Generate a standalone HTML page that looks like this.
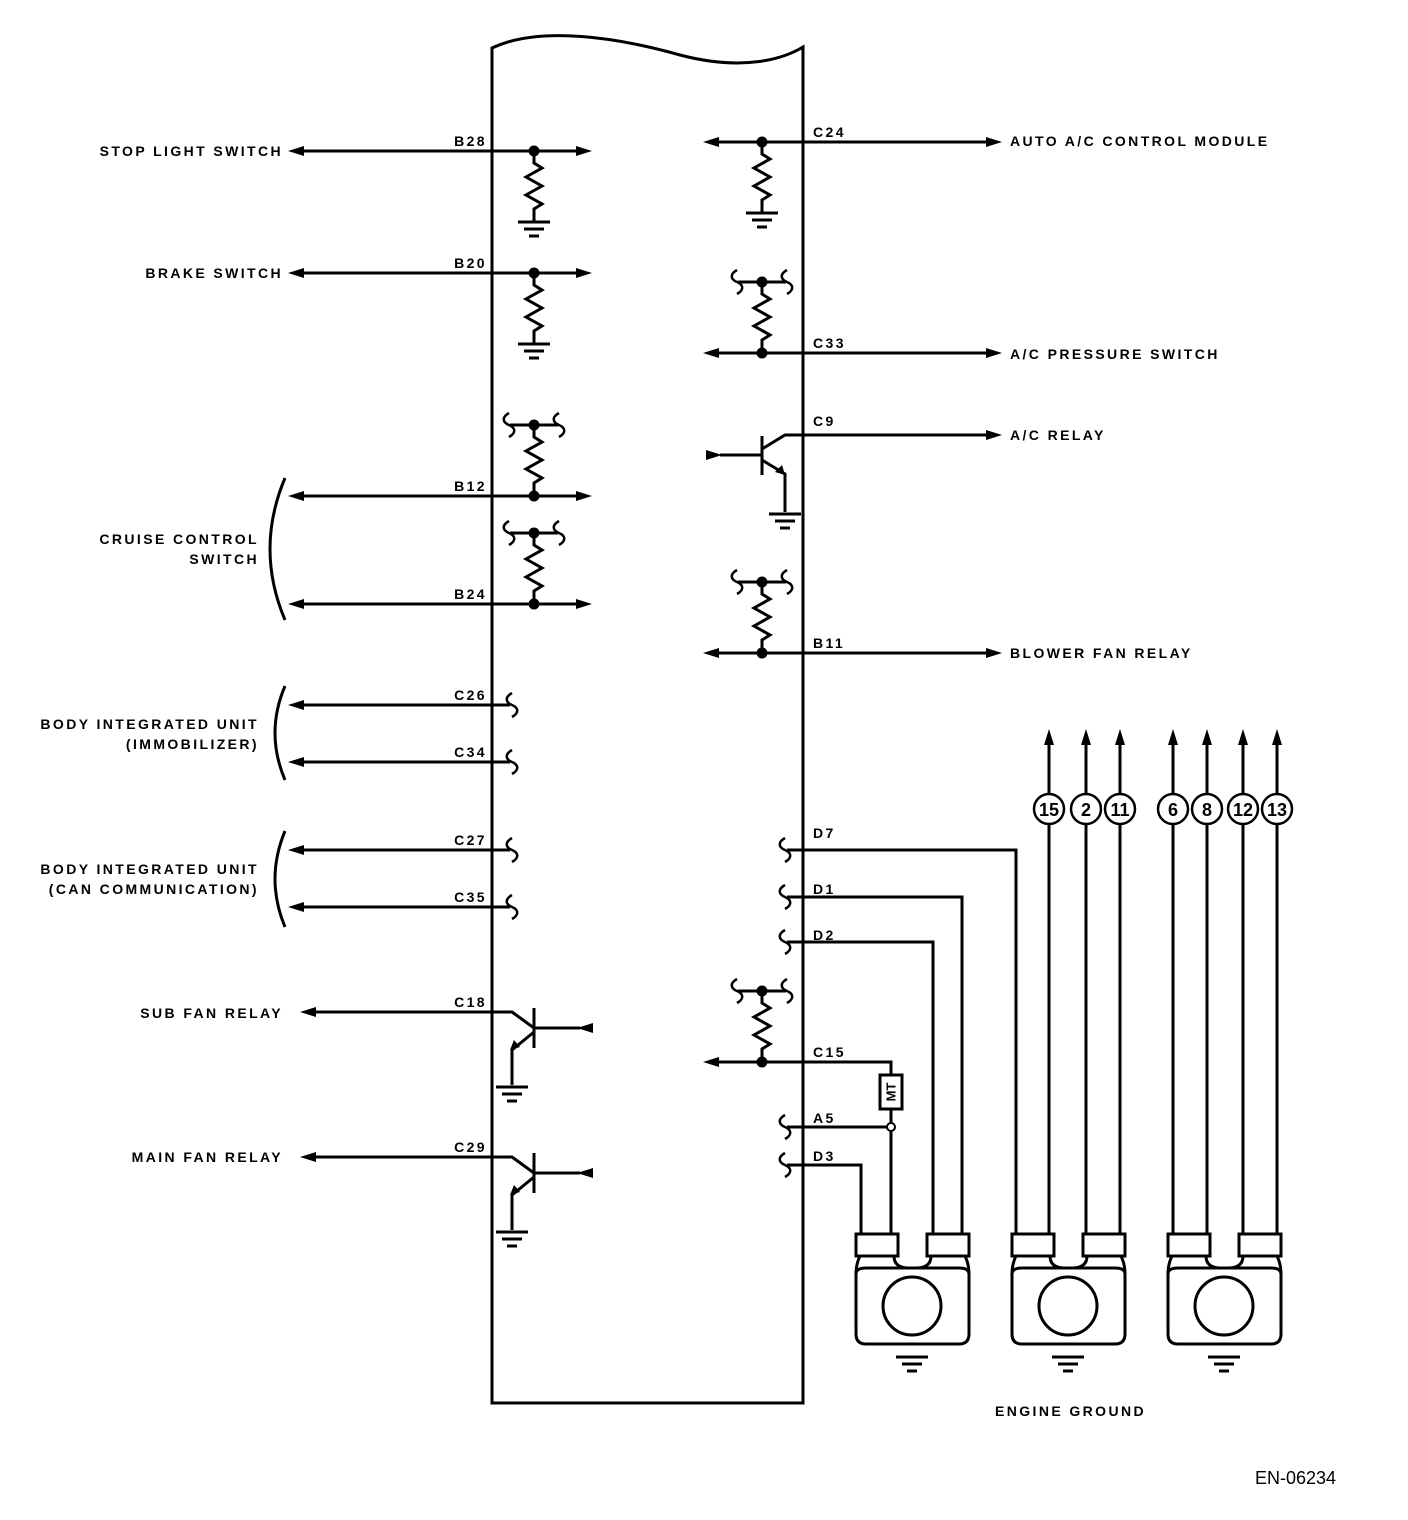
<!DOCTYPE html>
<html><head><meta charset="utf-8"><style>
html,body{margin:0;padding:0;background:#fff}
svg{display:block}
text{font-family:"Liberation Sans",Arial,sans-serif;font-weight:bold;font-size:14px;letter-spacing:2.4px;fill:#000}
text.n{letter-spacing:0;font-size:18px}
text.mt{letter-spacing:0;font-size:13px}
text.en{letter-spacing:0;font-size:18px;font-weight:normal}
</style></head><body>
<svg width="1408" height="1520" viewBox="0 0 1408 1520" xmlns="http://www.w3.org/2000/svg">
<defs>
<path id="res" d="M0,0 v12 l8,5 l-16,9 l16,9 l-16,9 l16,9 l-8,5 v12" fill="none" stroke="#000" stroke-width="3"/>
<g id="gnd" stroke="#000" stroke-width="3"><line x1="-16" y1="0" x2="16" y2="0"/><line x1="-10" y1="7" x2="10" y2="7"/><line x1="-5" y1="14" x2="5" y2="14"/></g>
<path id="sq" d="M0,-12 c-7,4 -7,9 0,12 c7,3 7,8 0,12" fill="none" stroke="#000" stroke-width="2.5"/>
<g id="pd"><circle r="5.5" fill="#000"/><use href="#res"/><use href="#gnd" y="71"/></g>
<g id="pu"><line x1="-24" y1="0" x2="24" y2="0" stroke="#000" stroke-width="3"/><use href="#sq" x="-25"/><use href="#sq" x="25"/><circle r="5.5" fill="#000"/><use href="#res"/><circle cy="71" r="5.5" fill="#000"/></g>
<path id="ar" d="M0,0 l16,-5 v10 z" fill="#000"/>
<path id="arr" d="M0,0 l-16,-5 v10 z" fill="#000"/>
<path id="aru" d="M0,0 l-5,16 h10 z" fill="#000"/>
<g id="sens" fill="none" stroke="#000" stroke-width="3">
<rect x="0" y="0" width="42" height="22" fill="#fff"/><rect x="71" y="0" width="42" height="22" fill="#fff"/>
<path d="M4,22 q-4,8 -4,18 v60 q0,10 10,10 h93 q10,0 10,-10 v-60 q0,-10 -4,-18"/>
<path d="M0,40 q0,-6 10,-6 h93 q10,0 10,6"/>
<path d="M38,22 q0,12 15,12 M75,22 q0,12 -15,12"/>
<circle cx="56" cy="72" r="29"/>
<use href="#gnd" x="56" y="123"/>
</g>
</defs>
<g fill="none" stroke="#000" stroke-width="3">
<path d="M492,1403 V48 C540,25 620,38 680,55 C745,72 785,58 803,47 V1403 Z"/>
<line x1="300" y1="151" x2="580" y2="151"/>
<line x1="300" y1="273" x2="580" y2="273"/>
<line x1="300" y1="496" x2="580" y2="496"/>
<line x1="300" y1="604" x2="580" y2="604"/>
<line x1="300" y1="705" x2="510" y2="705"/>
<line x1="300" y1="762" x2="510" y2="762"/>
<line x1="300" y1="850" x2="510" y2="850"/>
<line x1="300" y1="907" x2="510" y2="907"/>
<path d="M285,478 Q255,549 285,620"/>
<path d="M285,686 Q265,733 285,780"/>
<path d="M285,831 Q265,879 285,927"/>
<line x1="715" y1="142" x2="990" y2="142"/>
<line x1="715" y1="353" x2="990" y2="353"/>
<line x1="715" y1="653" x2="990" y2="653"/>
<line x1="720" y1="455" x2="762" y2="455"/>
<line x1="762" y1="436" x2="762" y2="475"/>
<polyline points="762,449 785,435 990,435"/>
<polyline points="762,460 785,474 785,512"/>
<polyline points="310,1012 512,1012 534,1028"/>
<line x1="534" y1="1008" x2="534" y2="1048"/>
<line x1="534" y1="1028" x2="580" y2="1028"/>
<polyline points="534,1032 512,1050 512,1085"/>
<polyline points="310,1157 512,1157 534,1173"/>
<line x1="534" y1="1153" x2="534" y2="1193"/>
<line x1="534" y1="1173" x2="580" y2="1173"/>
<polyline points="534,1177 512,1195 512,1230"/>
<polyline points="787,850 1016,850 1016,1236"/>
<polyline points="787,897 962,897 962,1236"/>
<polyline points="787,942 933,942 933,1236"/>
<polyline points="715,1062 891,1062 891,1075"/>
<line x1="891" y1="1109" x2="891" y2="1123"/>
<line x1="787" y1="1127" x2="887" y2="1127"/>
<line x1="891" y1="1131" x2="891" y2="1236"/>
<polyline points="787,1165 861,1165 861,1236"/>
<rect x="880" y="1075" width="22" height="34"/>
<circle cx="891" cy="1127" r="4" stroke-width="2"/>
<line x1="1049" y1="745" x2="1049" y2="1236"/>
<line x1="1086" y1="745" x2="1086" y2="1236"/>
<line x1="1120" y1="745" x2="1120" y2="1236"/>
<line x1="1173" y1="745" x2="1173" y2="1236"/>
<line x1="1207" y1="745" x2="1207" y2="1236"/>
<line x1="1243" y1="745" x2="1243" y2="1236"/>
<line x1="1277" y1="745" x2="1277" y2="1236"/>
</g>
<use href="#ar" x="288" y="151"/><use href="#arr" x="592" y="151"/>
<use href="#ar" x="288" y="273"/><use href="#arr" x="592" y="273"/>
<use href="#ar" x="288" y="496"/><use href="#arr" x="592" y="496"/>
<use href="#ar" x="288" y="604"/><use href="#arr" x="592" y="604"/>
<use href="#ar" x="288" y="705"/><use href="#ar" x="288" y="762"/>
<use href="#ar" x="288" y="850"/><use href="#ar" x="288" y="907"/>
<use href="#ar" x="300" y="1012"/><use href="#ar" x="300" y="1157"/>
<use href="#ar" x="577" y="1028"/><use href="#ar" x="577" y="1173"/>
<use href="#ar" x="703" y="142"/><use href="#arr" x="1002" y="142"/>
<use href="#ar" x="703" y="353"/><use href="#arr" x="1002" y="353"/>
<use href="#ar" x="703" y="653"/><use href="#arr" x="1002" y="653"/>
<use href="#arr" x="722" y="455"/><use href="#arr" x="1002" y="435"/>
<use href="#ar" x="703" y="1062"/>
<path d="M785,475 l-10,-3 l7,-7 z" fill="#000"/>
<path d="M510,1050 l4,-10 l6,7 z" fill="#000"/>
<path d="M510,1195 l4,-10 l6,7 z" fill="#000"/>
<use href="#aru" x="1049" y="729"/><use href="#aru" x="1086" y="729"/><use href="#aru" x="1120" y="729"/>
<use href="#aru" x="1173" y="729"/><use href="#aru" x="1207" y="729"/><use href="#aru" x="1243" y="729"/><use href="#aru" x="1277" y="729"/>
<use href="#pd" x="534" y="151"/>
<use href="#pd" x="534" y="273"/>
<use href="#pd" x="762" y="142"/>
<use href="#pu" x="534" y="425"/>
<use href="#pu" x="534" y="533"/>
<use href="#pu" x="762" y="282"/>
<use href="#pu" x="762" y="582"/>
<use href="#pu" x="762" y="991"/>
<use href="#gnd" x="785" y="514"/>
<use href="#gnd" x="512" y="1087"/>
<use href="#gnd" x="512" y="1232"/>
<use href="#sq" x="512" y="705"/><use href="#sq" x="512" y="762"/>
<use href="#sq" x="512" y="850"/><use href="#sq" x="512" y="907"/>
<use href="#sq" x="785" y="850"/><use href="#sq" x="785" y="897"/><use href="#sq" x="785" y="942"/>
<use href="#sq" x="785" y="1127"/><use href="#sq" x="785" y="1165"/>
<use href="#sens" x="856" y="1234"/>
<use href="#sens" x="1012" y="1234"/>
<use href="#sens" x="1168" y="1234"/>
<g fill="#fff" stroke="#000" stroke-width="2.5">
<circle cx="1049" cy="809" r="15"/><circle cx="1086" cy="809" r="15"/><circle cx="1120" cy="809" r="15"/>
<circle cx="1173" cy="809" r="15"/><circle cx="1207" cy="809" r="15"/><circle cx="1243" cy="809" r="15"/><circle cx="1277" cy="809" r="15"/>
</g>
<g text-anchor="middle">
<text class="n" x="1049" y="816">15</text><text class="n" x="1086" y="816">2</text><text class="n" x="1120" y="816">11</text>
<text class="n" x="1173" y="816">6</text><text class="n" x="1207" y="816">8</text><text class="n" x="1243" y="816">12</text><text class="n" x="1277" y="816">13</text>
</g>
<text class="mt" x="0" y="0" transform="translate(891,1092) rotate(-90)" text-anchor="middle" dominant-baseline="central">MT</text>
<g text-anchor="end">
<text x="283" y="156">STOP LIGHT SWITCH</text>
<text x="283" y="278">BRAKE SWITCH</text>
<text x="259" y="544">CRUISE CONTROL</text>
<text x="259" y="564">SWITCH</text>
<text x="259" y="729">BODY INTEGRATED UNIT</text>
<text x="259" y="749">(IMMOBILIZER)</text>
<text x="259" y="874">BODY INTEGRATED UNIT</text>
<text x="259" y="894">(CAN COMMUNICATION)</text>
<text x="283" y="1018">SUB FAN RELAY</text>
<text x="283" y="1162">MAIN FAN RELAY</text>
<text x="487" y="146">B28</text>
<text x="487" y="268">B20</text>
<text x="487" y="491">B12</text>
<text x="487" y="599">B24</text>
<text x="487" y="700">C26</text>
<text x="487" y="757">C34</text>
<text x="487" y="845">C27</text>
<text x="487" y="902">C35</text>
<text x="487" y="1007">C18</text>
<text x="487" y="1152">C29</text>
</g>
<text x="813" y="137">C24</text>
<text x="813" y="348">C33</text>
<text x="813" y="426">C9</text>
<text x="813" y="648">B11</text>
<text x="813" y="838">D7</text>
<text x="813" y="894">D1</text>
<text x="813" y="940">D2</text>
<text x="813" y="1057">C15</text>
<text x="813" y="1123">A5</text>
<text x="813" y="1161">D3</text>
<text x="1010" y="146">AUTO A/C CONTROL MODULE</text>
<text x="1010" y="359">A/C PRESSURE SWITCH</text>
<text x="1010" y="440">A/C RELAY</text>
<text x="1010" y="658">BLOWER FAN RELAY</text>
<text x="995" y="1416">ENGINE GROUND</text>
<text class="en" x="1255" y="1484">EN-06234</text>
</svg>
</body></html>
